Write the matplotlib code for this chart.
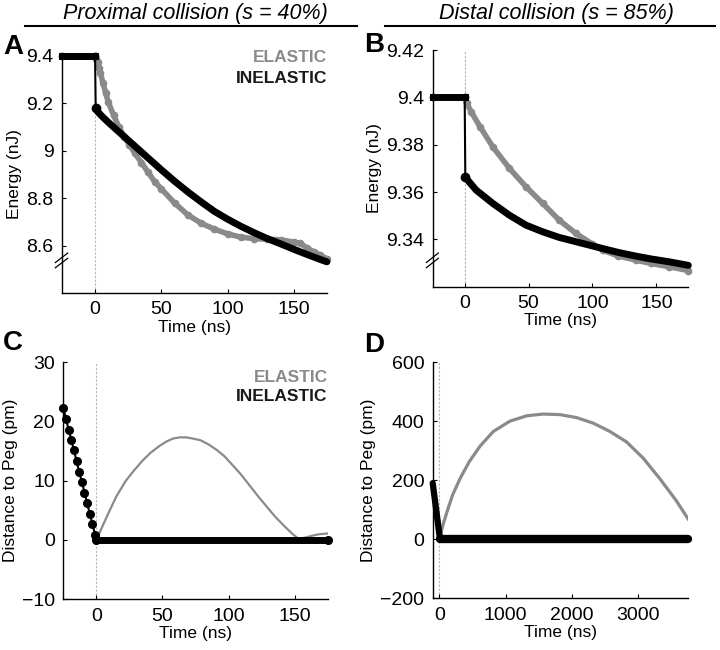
import matplotlib
matplotlib.use('Agg')
import matplotlib.pyplot as plt
from matplotlib.lines import Line2D
from matplotlib.ticker import FormatStrFormatter

plt.rcParams['font.family'] = ['Liberation Sans', 'DejaVu Sans']

GRAY = '#8a8a8a'
BLACK = '#000000'

# ---- panel A : proximal collision, energy ----
pre_t_A = [-25, 0]
pre_e_A = [9.4, 9.4]
el_t_A = [0, 1, 2, 3, 4, 6, 8, 10, 14, 18, 22, 26, 30, 35, 40, 45, 50, 60, 70, 80,
          90, 100, 110, 120, 130, 140, 150, 155, 160, 165, 170, 175]
el_e_A = [9.40, 9.385, 9.375, 9.35, 9.33, 9.285, 9.245, 9.205, 9.15, 9.10, 9.06, 9.025,
          8.99, 8.95, 8.91, 8.87, 8.84, 8.78, 8.73, 8.695, 8.67, 8.65, 8.636, 8.63,
          8.627, 8.625, 8.615, 8.61, 8.59, 8.575, 8.56, 8.545]
in_t_A = [0.5, 2, 5, 10, 15, 20, 25, 30, 40, 50, 60, 70, 80, 90, 100, 110, 120, 130,
          140, 150, 160, 170, 175]
in_e_A = [9.18, 9.165, 9.147, 9.12, 9.095, 9.07, 9.045, 9.02, 8.97, 8.92, 8.872, 8.827,
          8.785, 8.745, 8.712, 8.682, 8.655, 8.63, 8.608, 8.585, 8.563, 8.542, 8.532]

# ---- panel B : distal collision, energy ----
pre_t_B = [-25, 0]
pre_e_B = [9.4, 9.4]
el_t_B = [0, 1.5, 5, 12, 22, 35, 48, 61, 74, 87, 100, 108, 120, 134, 146, 160, 175]
el_e_B = [9.400, 9.3975, 9.394, 9.3876, 9.3791, 9.370, 9.3622, 9.3552, 9.3481, 9.3425,
          9.338, 9.3354, 9.333, 9.3312, 9.3298, 9.3284, 9.3268]
in_t_B = [0.5, 9, 22, 35, 48, 61, 74, 87, 100, 108, 120, 134, 146, 160, 175]
in_e_B = [9.3662, 9.3608, 9.3552, 9.3502, 9.346, 9.3432, 9.3408, 9.339, 9.3372, 9.3361,
          9.3345, 9.3329, 9.3317, 9.3305, 9.329]

# ---- panel C : proximal collision, distance ----
pre_t_C = [-25, -23, -21, -19, -17, -15, -13, -11, -9, -7, -5, -3, -1]
pre_d_C = [22.2, 20.4, 18.6, 16.9, 15.1, 13.3, 11.5, 9.8, 8.0, 6.2, 4.4, 2.7, 0.9]
con_t_C = [0, 175]
con_d_C = [0, 0]
el_t_C = [0, 4, 8, 15, 22, 28, 35, 41, 48, 53, 58, 63, 68, 73, 79, 85, 91, 97, 104,
          110, 117, 123, 129, 135, 142, 148, 153, 158, 163, 168, 175]
el_d_C = [0, 2.0, 4.0, 7.3, 9.9, 11.6, 13.4, 14.7, 15.9, 16.6, 17.1, 17.3, 17.3, 17.1,
          16.8, 16.1, 15.2, 14.1, 12.4, 10.9, 8.9, 7.2, 5.6, 4.0, 2.4, 1.1, 0.2, 0.4,
          0.7, 0.95, 1.1]

# ---- panel D : distal collision, distance ----
pre_t_D = [-100, 10]
pre_d_D = [190, 0]
con_t_D = [10, 3750]
con_d_D = [0, 0]
el_t_D = [0, 20, 50, 111, 200, 312, 450, 614, 815, 1066, 1320, 1569, 1820, 2072, 2325,
          2575, 2825, 3077, 3330, 3580, 3756]
el_d_D = [0, 15, 45, 90, 150, 205, 262, 315, 365, 400, 418, 424, 422, 412, 393, 365,
          330, 275, 205, 130, 69]

fig = plt.figure(figsize=(7.2, 6.5), dpi=100)

def style(ax, xlim, ylim, xt, yt, ylabel, fmt=None):
    ax.set_xlim(*xlim)
    ax.set_ylim(*ylim)
    ax.set_xticks(xt)
    ax.set_yticks(yt)
    if fmt:
        ax.yaxis.set_major_formatter(FormatStrFormatter(fmt))
    for s in ['top', 'right']:
        ax.spines[s].set_visible(False)
    for s in ['left', 'bottom']:
        ax.spines[s].set_linewidth(1.0)
    ax.tick_params(direction='in', length=3, width=0.8, labelsize=14, pad=6)
    ax.set_xlabel('Time (ns)', fontsize=12.5, labelpad=1)
    ax.set_ylabel(ylabel, fontsize=12.5, labelpad=3)
    ax.axvline(0, color='#b5b5b5', lw=0.8, ls=(0, (2, 1.5)), zorder=0)

def brk(ax, yfrac):
    for off in (0, 0.022):
        ax.plot([-0.025, 0.022], [yfrac - 0.02 + off, yfrac + 0.02 + off], color='k',
                lw=0.9, transform=ax.transAxes, clip_on=False)

def labels(ax, y1, y2):
    ax.text(1.0, y1, 'ELASTIC', transform=ax.transAxes, ha='right', va='center',
            fontsize=12.5, fontweight='bold', color=GRAY)
    ax.text(1.0, y2, 'INELASTIC', transform=ax.transAxes, ha='right', va='center',
            fontsize=12.5, fontweight='bold', color='#1a1a1a')

# panel A
axA = fig.add_axes([0.086, 0.549, 0.368, 0.365])
axA.plot(el_t_A, el_e_A, color=GRAY, lw=4, marker='o', ms=4.5, clip_on=False)
axA.plot(pre_t_A, pre_e_A, color=BLACK, lw=5, marker='o', ms=4.5, clip_on=False)
axA.plot([pre_t_A[-1], in_t_A[0]], [pre_e_A[-1], in_e_A[0]], color=BLACK, lw=1.5)
axA.plot(in_t_A, in_e_A, color=BLACK, lw=5, solid_capstyle='round', clip_on=False)
axA.plot(in_t_A[0], in_e_A[0], 'o', color=BLACK, ms=6, clip_on=False)
style(axA, (-25, 175), (8.4, 9.4), [0, 50, 100, 150], [8.6, 8.8, 9.0, 9.2, 9.4],
      'Energy (nJ)', '%g')
brk(axA, 0.127)
labels(axA, 0.995, 0.905)

# panel B
axB = fig.add_axes([0.601, 0.559, 0.355, 0.364])
axB.plot(el_t_B, el_e_B, color=GRAY, lw=4, marker='o', ms=4.5, clip_on=False)
axB.plot(pre_t_B, pre_e_B, color=BLACK, lw=5, marker='o', ms=4.5, clip_on=False)
axB.plot([pre_t_B[-1], in_t_B[0]], [pre_e_B[-1], in_e_B[0]], color=BLACK, lw=1.5)
axB.plot(in_t_B, in_e_B, color=BLACK, lw=5, solid_capstyle='round', clip_on=False)
axB.plot(in_t_B[0], in_e_B[0], 'o', color=BLACK, ms=6, clip_on=False)
style(axB, (-25, 175), (9.32, 9.42), [0, 50, 100, 150],
      [9.34, 9.36, 9.38, 9.40, 9.42], 'Energy (nJ)', '%g')
brk(axB, 0.10)

# panel C
axC = fig.add_axes([0.088, 0.078, 0.367, 0.365])
axC.plot(el_t_C, el_d_C, color=GRAY, lw=1.6)
axC.plot(pre_t_C, pre_d_C, color=BLACK, lw=1.5, marker='o', ms=5.5, clip_on=False)
axC.plot([pre_t_C[-1], con_t_C[0]], [pre_d_C[-1], con_d_C[0]], color=BLACK, lw=1.5)
axC.plot(con_t_C, con_d_C, color=BLACK, lw=5, marker='o', ms=5.5,
         solid_capstyle='round', clip_on=False)
style(axC, (-25, 175), (-10, 30), [0, 50, 100, 150], [-10, 0, 10, 20, 30],
      'Distance to Peg (pm)')
labels(axC, 0.935, 0.855)

# panel D
axD = fig.add_axes([0.601, 0.0795, 0.355, 0.3635])
axD.plot(el_t_D, el_d_D, color=GRAY, lw=2.3)
axD.plot(pre_t_D, pre_d_D, color=BLACK, lw=4.5, solid_capstyle='round', clip_on=False)
axD.plot(con_t_D, con_d_D, color=BLACK, lw=6, solid_capstyle='round', clip_on=False)
style(axD, (-100, 3760), (-200, 600), [0, 1000, 2000, 3000],
      [-200, 0, 200, 400, 600], 'Distance to Peg (pm)')

# column titles and rules
fig.text(195 / 720, 1 - 14 / 650, 'Proximal collision (s = 40%)', ha='center',
         va='center', fontsize=15.5, style='italic')
fig.text(556 / 720, 1 - 14 / 650, 'Distal collision (s = 85%)', ha='center',
         va='center', fontsize=15.5, style='italic')
fig.add_artist(Line2D([25 / 720, 357 / 720], [1 - 26 / 650] * 2, color='k', lw=1.5))
fig.add_artist(Line2D([385 / 720, 715 / 720], [1 - 26 / 650] * 2, color='k', lw=1.5))

# panel letters
for lab, x, y in [('A', 13, 47), ('B', 374, 45), ('C', 13, 343), ('D', 374, 345)]:
    fig.text(x / 720, 1 - y / 650, lab, ha='center', va='center', fontsize=20,
             fontweight='bold')

fig.savefig('out.png', dpi=100)
